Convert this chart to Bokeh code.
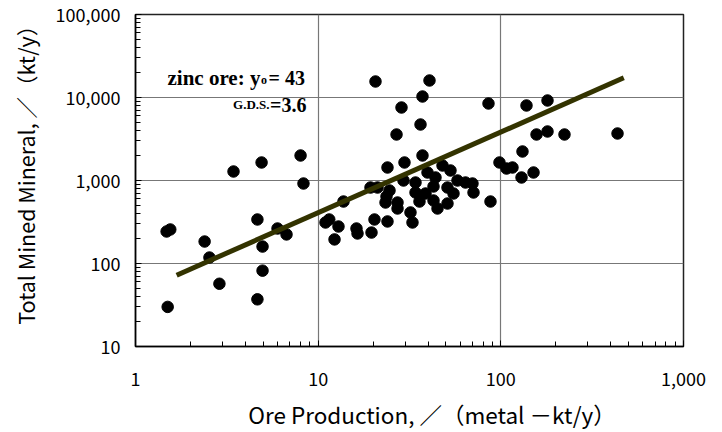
from bokeh.plotting import figure
from bokeh.models import NumeralTickFormatter, FixedTicker, Range1d, LogTicker
from bokeh.core.properties import value
from bokeh.embed import file_html
from bokeh.resources import INLINE

# Ore production (metal kt/y)
ore_production = [
    1.48, 1.55, 2.39, 2.54, 2.88, 1.50, 3.44, 4.90, 8.01, 8.31,
    4.65, 4.96, 4.96, 4.65, 5.99, 6.71, 10.97, 11.5, 12.92, 12.29,
    13.76, 16.21, 16.42, 19.59, 20.34, 20.60, 28.59, 26.85, 23.96, 29.69,
    19.34, 21.13, 24.58, 23.37, 23.66, 27.19, 27.19, 23.96, 29.32, 32.02,
    32.84, 34.11, 34.11, 35.87, 37.25, 36.33, 40.69, 37.25, 47.94, 53.02,
    39.68, 43.88, 42.80, 57.90, 64.05, 69.96, 70.86, 51.05, 55.07, 38.70,
    42.80, 45.01, 51.05, 87.78, 85.59, 138.2, 180.1, 156.8, 180.1, 223.1,
    435.3, 131.4, 98.3, 107.4, 115.8, 129.8, 151.0,
]
# Total mined mineral (kt/y)
total_mined = [
    243, 257, 184, 118, 57, 30, 1284, 1648, 2001, 920,
    339, 160, 82, 37, 264, 224, 312, 339, 279, 195,
    558, 264, 230, 236, 339, 15590, 7577, 3583, 1434, 1648,
    823, 823, 758, 543, 642, 543, 460, 321, 1000, 412,
    312, 717, 946, 558, 10280, 4728, 16030, 2001, 1516, 1320,
    1249, 1087, 847, 1000, 946, 920, 717, 823, 697, 697,
    574, 460, 528, 558, 8469, 8010, 9203, 3583, 3894, 3583,
    3684, 2236, 1648, 1395, 1434, 1087, 1249,
]
# Regression line end points
fit_x = [1.68, 471.0]
fit_y = [72.3, 17270.0]

x_ticks = [1, 10, 100, 1000]
y_ticks = [10, 100, 1000, 10000, 100000]

label_main = "zinc ore: y"
label_sub = "o"
label_val = "= 43"
gds_label = "G.D.S."
gds_val = "=3.6"

CJK = "Noto Sans CJK JP"
SERIF = "Liberation Serif"

p = figure(width=722, height=432, x_axis_type="log", y_axis_type="log",
           x_range=Range1d(1, 1000), y_range=Range1d(10, 100000),
           output_backend="svg", toolbar_location=None,
           min_border_left=135, min_border_right=39,
           min_border_top=14, min_border_bottom=86)
p.background_fill_color = "white"
p.border_fill_color = "white"
p.outline_line_color = "#222222"
p.outline_line_width = 1.5

for ax in (p.xaxis[0], p.yaxis[0]):
    ax.ticker = LogTicker(num_minor_ticks=10)
    ax.formatter = NumeralTickFormatter(format="0,0")
    ax.major_tick_out = 0
    ax.major_tick_in = 6
    ax.minor_tick_out = 0
    ax.minor_tick_in = 5
    ax.axis_line_color = "black"
    ax.axis_line_width = 1.5
    ax.major_tick_line_color = "black"
    ax.minor_tick_line_color = "black"
    ax.major_label_text_font = CJK
    ax.major_label_text_font_size = "18px"
    ax.major_label_text_color = "black"
    ax.axis_label_text_font = CJK
    ax.axis_label_text_font_style = "normal"
    ax.axis_label_text_color = "black"

p.xaxis.axis_label_text_font_size = "22.5px"
p.yaxis.axis_label_text_font_size = "21.5px"
p.xaxis.major_label_standoff = 25
p.xaxis.axis_label_standoff = 9
p.yaxis.major_label_standoff = 15
p.yaxis.axis_label_standoff = 12
p.xaxis.axis_label = "\u3000\u3000Ore Production, ／（metal －kt/y）"
p.yaxis.axis_label = "\u3000Total Mined Mineral, ／（kt/y）"

p.xgrid.ticker = FixedTicker(ticks=x_ticks)
p.ygrid.ticker = FixedTicker(ticks=y_ticks)
for g in (p.xgrid[0], p.ygrid[0]):
    g.grid_line_color = "#777777"
    g.grid_line_width = 1.2

p.scatter(ore_production, total_mined, size=11.5, color="black")
p.line(fit_x, fit_y, line_width=5, color="#333300")

# annotation text
common = dict(text_baseline="alphabetic", text_font=value(SERIF),
              text_font_style="bold", text_color="black")
p.text(x=[4.83], y=[17400], text=[label_main], text_align="right",
       text_font_size="21px", **common)
p.text(x=[4.87], y=[16250], text=[label_sub], text_align="left",
       text_font_size="12px", **common)
p.text(x=[5.35], y=[17400], text=[label_val], text_align="left",
       text_font_size="20px", **common)
p.text(x=[5.42], y=[8300], text=[gds_label], text_align="right",
       text_font_size="13px", **common)
p.text(x=[8.63], y=[8010], text=[gds_val], text_align="right",
       text_font_size="20px", **common)

open("out.html", "w").write(file_html(p, INLINE))
